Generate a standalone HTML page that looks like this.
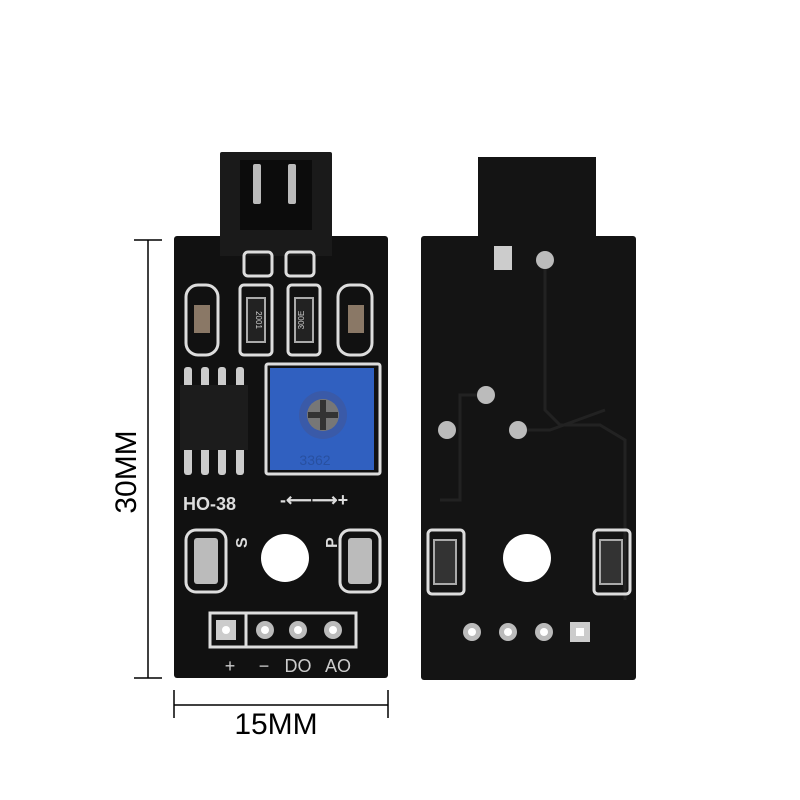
<!DOCTYPE html>
<html><head><style>body{margin:0;background:#fff}svg{display:block}</style></head><body>
<svg width="800" height="800" viewBox="0 0 800 800" xmlns="http://www.w3.org/2000/svg" font-family="Liberation Sans, sans-serif">
<rect width="800" height="800" fill="#fff"/>
<g stroke="#000" stroke-width="1.5">
<line x1="148" y1="240" x2="148" y2="678"/><line x1="134" y1="240" x2="162" y2="240"/><line x1="134" y1="678" x2="162" y2="678"/>
<line x1="174" y1="705" x2="388" y2="705"/><line x1="174" y1="690" x2="174" y2="718"/><line x1="388" y1="690" x2="388" y2="718"/>
</g>
<text x="0" y="0" font-size="30" text-anchor="middle" transform="translate(136,472) rotate(-90)">30MM</text>
<text x="276" y="734" font-size="30" text-anchor="middle">15MM</text>

<!-- LEFT BOARD -->
<rect x="220" y="152" width="112" height="103" fill="#1a1a1a" rx="2"/>
<rect x="240" y="160" width="72" height="70" fill="#0c0c0c"/>
<rect x="253" y="164" width="8" height="40" fill="#bbb" rx="2"/>
<rect x="288" y="164" width="8" height="40" fill="#bbb" rx="2"/>
<rect x="174" y="236" width="214" height="442" fill="#111" rx="3"/>
<rect x="220" y="236" width="112" height="20" fill="#1a1a1a"/>
<g fill="none" stroke="#ddd" stroke-width="3">
<rect x="186" y="285" width="32" height="70" rx="12"/>
<rect x="240" y="285" width="32" height="70" rx="4"/>
<rect x="288" y="285" width="32" height="70" rx="4"/>
<rect x="338" y="285" width="34" height="70" rx="12"/>
<rect x="244" y="252" width="28" height="24" rx="4"/>
<rect x="286" y="252" width="28" height="24" rx="4"/>
<rect x="266" y="364" width="114" height="110" rx="2"/>
<rect x="186" y="530" width="40" height="62" rx="10"/>
<rect x="340" y="530" width="40" height="62" rx="10"/>
<rect x="210" y="613" width="146" height="34"/>
<line x1="246" y1="613" x2="246" y2="647"/>
</g>
<g fill="#8a7866"><rect x="194" y="305" width="16" height="28"/><rect x="348" y="305" width="16" height="28"/></g>
<g fill="#222" stroke="#aaa" stroke-width="2"><rect x="247" y="298" width="18" height="44"/><rect x="295" y="298" width="18" height="44"/></g>
<text x="256" y="320" font-size="8" fill="#ccc" text-anchor="middle" transform="rotate(90 256 320)">2001</text>
<text x="304" y="320" font-size="8" fill="#ccc" text-anchor="middle" transform="rotate(-90 304 320)">300E</text>
<g fill="#ccc"><rect x="184" y="367" width="8" height="22" rx="3"/><rect x="201" y="367" width="8" height="22" rx="3"/><rect x="218" y="367" width="8" height="22" rx="3"/><rect x="236" y="367" width="8" height="22" rx="3"/>
<rect x="184" y="447" width="8" height="28" rx="3"/><rect x="201" y="447" width="8" height="28" rx="3"/><rect x="218" y="447" width="8" height="28" rx="3"/><rect x="236" y="447" width="8" height="28" rx="3"/></g>
<rect x="180" y="385" width="68" height="65" fill="#1c1c1c"/>
<rect x="270" y="368" width="104" height="102" fill="#3060c0"/>
<circle cx="323" cy="415" r="24" fill="#3a5aa8"/><circle cx="323" cy="415" r="16" fill="#777"/>
<rect x="320" y="400" width="6" height="30" fill="#333"/><rect x="308" y="412" width="30" height="6" fill="#333"/>
<text x="315" y="465" font-size="14" fill="#2850a0" text-anchor="middle">3362</text>
<text x="183" y="510" font-size="18" font-weight="bold" fill="#ddd">HO-38</text>
<text x="280" y="506" font-size="18" font-weight="bold" fill="#ddd">-⟵⟶+</text>
<text x="240" y="555" font-size="16" font-weight="bold" fill="#ddd" transform="rotate(-90 240 548)">S</text>
<text x="330" y="555" font-size="16" font-weight="bold" fill="#ddd" transform="rotate(-90 330 548)">P</text>
<g fill="#bbb"><rect x="194" y="538" width="24" height="46" rx="3"/><rect x="348" y="538" width="24" height="46" rx="3"/></g>
<circle cx="285" cy="558" r="24" fill="#fff"/>
<rect x="216" y="620" width="20" height="20" fill="#ccc"/><circle cx="226" cy="630" r="4" fill="#fff"/>
<g fill="#bbb"><circle cx="265" cy="630" r="9"/><circle cx="298" cy="630" r="9"/><circle cx="333" cy="630" r="9"/></g>
<g fill="#fff"><circle cx="265" cy="630" r="4"/><circle cx="298" cy="630" r="4"/><circle cx="333" cy="630" r="4"/></g>
<g font-size="18" fill="#ccc" text-anchor="middle"><text x="230" y="672">+</text><text x="264" y="672">−</text><text x="298" y="672">DO</text><text x="338" y="672">AO</text></g>

<!-- RIGHT BOARD -->
<rect x="478" y="157" width="118" height="83" fill="#141414"/>
<rect x="421" y="236" width="215" height="444" fill="#141414" rx="3"/>
<g fill="none" stroke="#222" stroke-width="3"><path d="M545 260 V410 L560 425 H600 L625 440 V600"/><path d="M486 395 H460 V500 H440"/><path d="M518 430 H550 L605 410"/></g>
<rect x="494" y="246" width="18" height="24" fill="#ccc"/>
<g fill="#bbb"><circle cx="545" cy="260" r="9"/><circle cx="486" cy="395" r="9"/><circle cx="518" cy="430" r="9"/><circle cx="447" cy="430" r="9"/></g>
<g fill="none" stroke="#ddd" stroke-width="3"><rect x="428" y="530" width="36" height="64" rx="4"/><rect x="594" y="530" width="36" height="64" rx="4"/></g>
<g fill="#333" stroke="#aaa" stroke-width="2"><rect x="434" y="540" width="22" height="44"/><rect x="600" y="540" width="22" height="44"/></g>
<circle cx="527" cy="558" r="24" fill="#fff"/>
<g fill="#bbb"><circle cx="472" cy="632" r="9"/><circle cx="508" cy="632" r="9"/><circle cx="544" cy="632" r="9"/></g>
<g fill="#fff"><circle cx="472" cy="632" r="4"/><circle cx="508" cy="632" r="4"/><circle cx="544" cy="632" r="4"/></g>
<rect x="570" y="622" width="20" height="20" fill="#ccc"/><rect x="576" y="628" width="8" height="8" fill="#fff"/>
</svg>
</body></html>
